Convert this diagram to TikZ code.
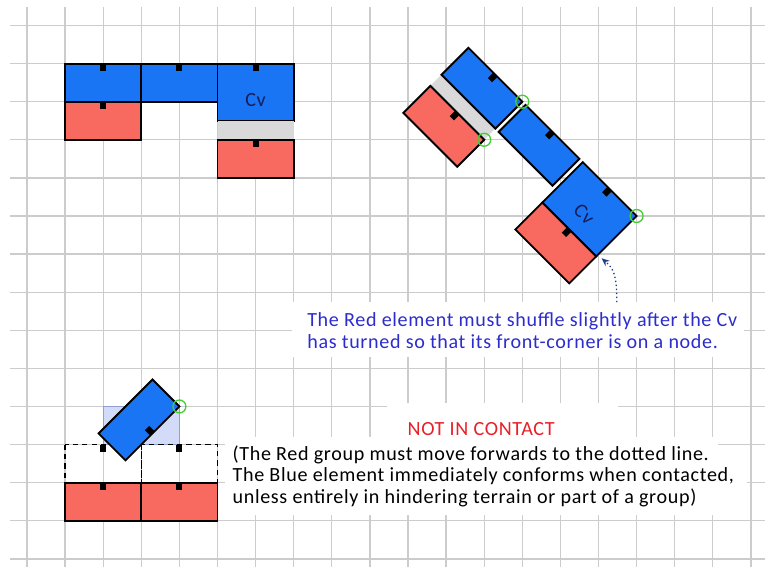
\documentclass[tikz,border=0pt]{standalone}
\usepackage{fontspec}
\setmainfont{Carlito}
\newfontfamily\notefont[LetterSpace=3.3]{Carlito}
\usetikzlibrary{arrows.meta}
\definecolor{unitblue}{RGB}{26,117,245}
\definecolor{unitred}{RGB}{248,106,96}
\definecolor{gapgray}{RGB}{217,217,217}
\definecolor{gridgray}{RGB}{204,204,204}
\definecolor{ringgreen}{RGB}{70,205,50}
\definecolor{ghostblue}{RGB}{210,219,247}
\definecolor{ghostedge}{RGB}{140,160,215}
\definecolor{noteblue}{RGB}{45,45,205}
\definecolor{alertred}{RGB}{232,32,40}
\definecolor{pointerblue}{RGB}{35,60,140}
\definecolor{cvink}{RGB}{20,30,90}
\begin{document}
\begin{tikzpicture}[
  gridline/.style={draw=gridgray, line width=1pt},
  blueunit/.style={fill=unitblue, draw=black, line width=1.4pt},
  redunit/.style={fill=unitred, draw=black, line width=1.4pt},
  gapstrip/.style={fill=gapgray},
  frontmark/.style={fill=black},
  ghostunit/.style={fill=ghostblue, draw=ghostedge, line width=0.5pt},
  dashunit/.style={draw=black, dash pattern=on 4pt off 3pt, line width=1pt},
  onnode/.style={draw=ringgreen, line width=1pt},
  notetext/.style={font=\notefont\fontsize{15}{15.9}\selectfont, align=left, anchor=base west, inner sep=0pt},
  cvlabel/.style={text=cvink, font=\notefont\fontsize{15}{15}\selectfont},
  ]
\useasboundingbox (-0.709,0.669) rectangle (19.37,-14.213);
% squared paper
\foreach \i in {0,...,19} {
  \draw[gridline] (\i,0.486) -- (\i,-14.213);
}
\foreach \j in {0,...,14} {
  \draw[gridline] (-0.446,-\j) -- (19.37,-\j);
}
% blank paper behind the notes
\fill[white] (6.96,-7.26) rectangle (18.82,-8.70);
\fill[white] (9.45,-9.9) rectangle (15.5,-10.8);
\fill[white] (5.2,-10.8) -- (18.14,-10.8) -- (18.14,-11.45) -- (18.9,-11.45)
  -- (18.9,-12.85) -- (5.2,-12.85) -- cycle;

% column in line, before the turn
\draw[blueunit] (1,-1) rectangle (3,-2);
\draw[blueunit] (3,-1) rectangle (5,-2);
\draw[blueunit] (5,-1) rectangle (7,-2.5);
\node[cvlabel] (cvflat) at (6,-1.95) {Cv};
\draw[redunit] (1,-2) rectangle (3,-3);
\fill[gapstrip] (5,-2.5) rectangle (7,-3);
\draw[redunit] (5,-3) rectangle (7,-4);
\foreach \x/\y in {2/-1,4/-1,6/-1,2/-2,6/-3} {
  \fill[frontmark] (\x-0.08,\y) rectangle (\x+0.08,\y-0.2);
}

% column after the turn
\begin{scope}[shift={(13,-2)}, rotate=-45]
  \fill[gapstrip] (-2,-1) rectangle (0,-1.414);
  \draw[blueunit] (-2,0) rectangle (0,-1);
  \draw[redunit] (-2,-1.414) rectangle (0,-2.414);
  \fill[frontmark] (-1.08,0) rectangle (-0.92,-0.2);
  \fill[frontmark] (-1.08,-1.414) rectangle (-0.92,-1.614);
  \draw[blueunit] (0.12,0) rectangle (2.12,-1);
  \fill[frontmark] (1.04,0) rectangle (1.2,-0.2);
\end{scope}
\begin{scope}[shift={(16,-5)}, rotate=-45]
  \draw[blueunit] (-2,0) rectangle (0,-1.5);
  \draw[redunit] (-2,-1.5) rectangle (0,-2.5);
  \fill[frontmark] (-1.08,0) rectangle (-0.92,-0.2);
  \fill[frontmark] (-1.08,-1.5) rectangle (-0.92,-1.7);
  \node[cvlabel, rotate=-45] (cvturned) at (-1,-0.95) {Cv};
\end{scope}
\draw[onnode] (13,-2) circle (0.17);
\draw[onnode] (12,-3) circle (0.17);
\draw[onnode] (16,-5) circle (0.17);

% charge, not in contact
\draw[ghostunit] (2,-10) rectangle (4,-11);
\draw[dashunit] (1,-11) rectangle (3,-12);
\draw[dashunit] (3,-11) rectangle (5,-12);
\draw[redunit] (1,-12) rectangle (3,-13);
\draw[redunit] (3,-12) rectangle (5,-13);
\foreach \x/\y in {2/-11,4/-11,2/-12,4/-12} {
  \fill[frontmark] (\x-0.08,\y) rectangle (\x+0.08,\y-0.2);
}
\begin{scope}[shift={(4,-10)}, rotate=-135]
  \draw[blueunit] (0,0) rectangle (2,-1);
  \fill[frontmark] (0.92,0) rectangle (1.08,-0.2);
\end{scope}
\draw[onnode] (4,-10) circle (0.17);

% notes (anchored on the baseline of their last line)
\node[notetext, text=noteblue] (shufflenote) at (7.35,-8.47)
  {The Red element must shuffle slightly after the Cv\\has turned so that its front-corner is on a node.};
\node[notetext, text=alertred, anchor=base] (contactnote) at (11.92,-10.75) {NOT IN CONTACT};
\node[notetext] (conformnote) at (5.39,-12.54)
  {(The Red group must move forwards to the dotted line.\\The Blue element immediately conforms when contacted,\\unless entirely in hindering terrain or part of a group)};
\coordinate (shufflecorner) at (15.08,-6.11);
\coordinate (arrowfoot) at (15.48,-7.26);
\draw[pointerblue, dotted, line width=1pt, -{Stealth[length=6pt,width=5pt]}]
  (arrowfoot) .. controls (15.48,-6.55) and (15.4,-6.38) .. (shufflecorner);
\end{tikzpicture}
\end{document}
